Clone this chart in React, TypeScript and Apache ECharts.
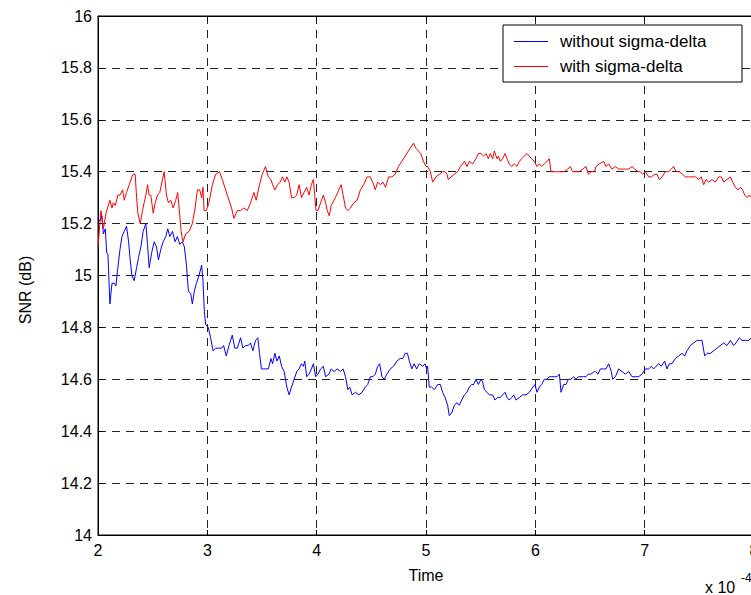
import React, { useEffect, useRef } from "react";
import * as echarts from "echarts";

// Time axis in units of 1e-4
const timeTicks = [2, 3, 4, 5, 6, 7, 8];
const snrTicks = [14, 14.2, 14.4, 14.6, 14.8, 15, 15.2, 15.4, 15.6, 15.8, 16];
const seriesNames = ["without sigma-delta", "with sigma-delta"];

const withoutSigmaDelta: [number, number][] = [
  [2.000,15.22],[2.018,15.21],[2.036,15.23],[2.049,15.16],[2.067,15.18],[2.079,15.09],[2.091,15.08],[2.109,14.89],[2.128,14.97],[2.149,14.97],[2.164,14.96],[2.179,15.02],[2.201,15.10],[2.219,15.15],[2.240,15.17],[2.261,15.19],[2.280,15.13],[2.292,15.07],[2.310,15.00],[2.331,14.98],[2.353,15.03],[2.371,15.07],[2.392,15.11],[2.413,15.17],[2.438,15.20],[2.453,15.12],[2.468,15.03],[2.492,15.09],[2.514,15.13],[2.535,15.11],[2.553,15.06],[2.574,15.10],[2.596,15.13],[2.620,15.15],[2.638,15.18],[2.657,15.15],[2.681,15.17],[2.705,15.13],[2.726,15.15],[2.748,15.12],[2.772,15.13],[2.790,15.11],[2.809,15.04],[2.827,14.94],[2.848,14.93],[2.863,14.89],[2.881,14.94],[2.900,14.97],[2.924,15.00],[2.948,15.04],[2.960,14.98],[2.973,14.86],[2.985,14.81],[3.009,14.80],[3.030,14.76],[3.052,14.71],[3.076,14.72],[3.106,14.72],[3.131,14.72],[3.149,14.73],[3.173,14.69],[3.198,14.73],[3.228,14.77],[3.252,14.72],[3.274,14.72],[3.304,14.76],[3.325,14.72],[3.350,14.73],[3.374,14.73],[3.395,14.74],[3.416,14.71],[3.441,14.75],[3.462,14.76],[3.477,14.70],[3.495,14.64],[3.517,14.64],
  [3.558,14.64],[3.582,14.68],[3.597,14.66],[3.618,14.70],[3.636,14.67],[3.658,14.69],[3.679,14.65],[3.703,14.63],[3.727,14.57],[3.748,14.54],[3.770,14.57],[3.794,14.60],[3.818,14.63],[3.839,14.64],[3.861,14.66],[3.879,14.65],[3.891,14.67],[3.909,14.61],[3.930,14.62],[3.952,14.64],[3.970,14.66],[3.991,14.61],[4.012,14.62],[4.036,14.64],[4.061,14.65],[4.082,14.61],[4.112,14.62],[4.133,14.64],[4.158,14.63],[4.188,14.64],[4.218,14.63],[4.242,14.64],[4.264,14.61],[4.285,14.56],[4.303,14.57],[4.324,14.54],[4.355,14.55],[4.385,14.54],[4.415,14.55],[4.445,14.57],[4.467,14.58],[4.491,14.61],[4.515,14.61],[4.536,14.62],[4.558,14.65],[4.576,14.66],[4.597,14.61],[4.618,14.60],[4.642,14.62],[4.673,14.64],[4.703,14.65],[4.733,14.67],[4.764,14.68],[4.788,14.68],[4.809,14.70],[4.830,14.70],[4.848,14.67],[4.870,14.64],[4.891,14.66],[4.915,14.64],[4.939,14.66],[4.970,14.65],[4.991,14.66],[5.006,14.64],
  [5.015,14.65],[5.030,14.57],[5.052,14.57],[5.076,14.56],[5.107,14.58],[5.131,14.58],[5.152,14.55],[5.174,14.53],[5.198,14.50],[5.213,14.46],[5.235,14.47],[5.259,14.50],[5.284,14.51],[5.305,14.50],[5.326,14.52],[5.351,14.54],[5.375,14.55],[5.396,14.57],[5.418,14.58],[5.436,14.58],[5.457,14.60],[5.479,14.58],[5.503,14.60],[5.518,14.59],[5.534,14.56],[5.558,14.55],[5.579,14.54],[5.610,14.54],[5.631,14.52],[5.655,14.53],[5.680,14.53],[5.701,14.54],[5.723,14.55],[5.741,14.53],[5.762,14.52],[5.784,14.53],[5.802,14.54],[5.823,14.52],[5.854,14.53],[5.884,14.54],[5.915,14.54],[5.945,14.55],[5.976,14.57],[5.997,14.58],[6.015,14.55],[6.037,14.57],[6.058,14.58],[6.082,14.60],[6.107,14.60],[6.128,14.61],[6.149,14.61],[6.174,14.61],[6.198,14.61],[6.220,14.62],[6.235,14.55],[6.259,14.58],[6.280,14.58],[6.302,14.60],[6.326,14.60],[6.351,14.61],[6.372,14.60],[6.393,14.61],[6.418,14.61],[6.442,14.61],[6.463,14.61],[6.485,14.62],[6.509,14.62],[6.540,14.63],
  [6.549,14.63],[6.573,14.62],[6.595,14.64],[6.625,14.64],[6.646,14.64],[6.671,14.66],[6.695,14.63],[6.707,14.60],[6.732,14.61],[6.762,14.64],[6.793,14.63],[6.823,14.62],[6.854,14.63],[6.884,14.61],[6.915,14.61],[6.945,14.61],[6.976,14.62],[7.006,14.64],[7.037,14.64],[7.061,14.65],[7.082,14.64],[7.104,14.65],[7.128,14.66],[7.152,14.65],[7.183,14.67],[7.204,14.64],[7.226,14.66],[7.250,14.66],[7.280,14.68],[7.311,14.69],[7.341,14.70],[7.366,14.69],[7.387,14.71],[7.418,14.73],[7.448,14.74],[7.479,14.75],[7.500,14.75],[7.524,14.75],[7.549,14.69],[7.570,14.70],[7.601,14.70],[7.631,14.71],[7.662,14.72],[7.692,14.73],[7.723,14.74],[7.753,14.73],[7.784,14.75],[7.814,14.73],[7.835,14.74],[7.866,14.76],[7.890,14.75],[7.921,14.75],[7.951,14.75],[7.976,14.76],[8.000,14.76],
];

const withSigmaDelta: [number, number][] = [
  [2.000,15.11],[2.027,15.25],[2.049,15.18],[2.073,15.24],[2.109,15.29],[2.128,15.26],[2.140,15.28],[2.158,15.27],[2.182,15.31],[2.201,15.31],[2.225,15.33],[2.240,15.29],[2.261,15.32],[2.286,15.35],[2.310,15.38],[2.322,15.39],[2.340,15.39],[2.353,15.30],[2.365,15.24],[2.386,15.20],[2.407,15.25],[2.422,15.28],[2.438,15.31],[2.453,15.35],[2.468,15.31],[2.483,15.31],[2.505,15.24],[2.523,15.28],[2.544,15.31],[2.565,15.32],[2.590,15.37],[2.605,15.40],[2.626,15.31],[2.644,15.28],[2.666,15.29],[2.687,15.26],[2.711,15.29],[2.729,15.32],[2.742,15.26],[2.760,15.17],[2.778,15.13],[2.802,15.16],[2.833,15.17],[2.863,15.20],[2.888,15.26],[2.909,15.33],[2.930,15.33],[2.948,15.30],[2.960,15.34],[2.970,15.25],[2.991,15.25],[3.015,15.28],[3.046,15.35],[3.076,15.39],[3.112,15.40],[3.137,15.37],[3.167,15.33],[3.198,15.29],[3.222,15.26],[3.243,15.22],[3.274,15.25],[3.304,15.25],[3.334,15.26],[3.365,15.25],[3.395,15.28],[3.426,15.32],[3.447,15.29],[3.477,15.35],[3.502,15.39],[3.532,15.42],
  [3.558,15.38],[3.582,15.37],[3.597,15.35],[3.618,15.33],[3.642,15.35],[3.667,15.36],[3.688,15.38],[3.709,15.36],[3.727,15.38],[3.748,15.36],[3.770,15.30],[3.794,15.30],[3.818,15.31],[3.839,15.35],[3.861,15.30],[3.885,15.32],[3.909,15.34],[3.930,15.31],[3.952,15.35],[3.970,15.37],[3.982,15.31],[3.994,15.25],[4.012,15.25],[4.036,15.28],[4.061,15.31],[4.082,15.28],[4.097,15.25],[4.115,15.23],[4.133,15.27],[4.158,15.29],[4.182,15.31],[4.203,15.33],[4.224,15.35],[4.242,15.31],[4.264,15.26],[4.285,15.25],[4.309,15.26],[4.339,15.28],[4.370,15.29],[4.400,15.33],[4.430,15.35],[4.461,15.38],[4.491,15.38],[4.521,15.35],[4.536,15.33],[4.558,15.36],[4.582,15.35],[4.606,15.36],[4.630,15.34],[4.658,15.38],[4.688,15.38],[4.718,15.39],[4.748,15.42],[4.779,15.44],[4.809,15.46],[4.839,15.48],[4.870,15.50],[4.885,15.51],[4.909,15.49],[4.930,15.48],[4.952,15.47],[4.976,15.44],[5.000,15.42],
  [5.015,15.42],[5.040,15.40],[5.061,15.36],[5.091,15.38],[5.122,15.39],[5.152,15.40],[5.174,15.40],[5.192,15.39],[5.204,15.37],[5.229,15.38],[5.259,15.39],[5.290,15.40],[5.314,15.42],[5.335,15.43],[5.351,15.44],[5.375,15.42],[5.396,15.44],[5.427,15.43],[5.457,15.45],[5.479,15.47],[5.503,15.47],[5.527,15.46],[5.549,15.47],[5.570,15.45],[5.588,15.47],[5.610,15.45],[5.625,15.48],[5.649,15.45],[5.662,15.46],[5.680,15.44],[5.701,15.45],[5.723,15.47],[5.741,15.45],[5.762,15.43],[5.784,15.42],[5.808,15.43],[5.832,15.42],[5.854,15.44],[5.875,15.45],[5.899,15.46],[5.924,15.47],[5.945,15.46],[5.966,15.45],[5.991,15.44],[6.015,15.42],[6.037,15.43],[6.058,15.42],[6.082,15.43],[6.107,15.44],[6.128,15.45],[6.143,15.40],[6.174,15.40],[6.204,15.40],[6.235,15.40],[6.265,15.40],[6.296,15.41],[6.320,15.42],[6.341,15.40],[6.372,15.40],[6.402,15.40],[6.433,15.41],[6.463,15.42],[6.485,15.39],[6.509,15.40],[6.540,15.40],
  [6.555,15.42],[6.585,15.43],[6.625,15.44],[6.646,15.42],[6.671,15.43],[6.701,15.41],[6.732,15.42],[6.762,15.41],[6.793,15.41],[6.823,15.41],[6.854,15.41],[6.884,15.42],[6.909,15.41],[6.939,15.40],[6.960,15.40],[6.982,15.39],[7.006,15.40],[7.037,15.38],[7.061,15.38],[7.091,15.39],[7.113,15.39],[7.134,15.37],[7.159,15.38],[7.189,15.40],[7.220,15.40],[7.244,15.41],[7.265,15.42],[7.287,15.40],[7.317,15.40],[7.348,15.39],[7.372,15.38],[7.402,15.38],[7.433,15.38],[7.463,15.38],[7.494,15.37],[7.518,15.38],[7.540,15.35],[7.561,15.37],[7.585,15.36],[7.616,15.37],[7.646,15.36],[7.677,15.38],[7.701,15.38],[7.723,15.36],[7.753,15.37],[7.784,15.38],[7.805,15.36],[7.829,15.34],[7.854,15.33],[7.875,15.34],[7.896,15.33],[7.915,15.31],[7.936,15.30],[7.957,15.31],[7.976,15.30],[8.000,15.30],
];

const FONT = "'Liberation Sans', Arial, Helvetica, sans-serif";

export default function App() {
  const ref = useRef<HTMLDivElement>(null);
  useEffect(() => {
    if (!ref.current) return;
    const chart = echarts.init(ref.current, undefined, { renderer: "svg" });
    const xMin = timeTicks[0];
    const xMax = timeTicks[timeTicks.length - 1];
    const yMin = snrTicks[0];
    const yMax = snrTicks[snrTicks.length - 1];
    const splitStyle = { show: true, lineStyle: { color: "#222", width: 1, type: [8, 6] as any } };
    chart.setOption({
      animation: false,
      backgroundColor: "#fff",
      grid: {
        left: 98,
        top: 16,
        width: 656,
        height: 519,
        show: true,
        borderColor: "#000",
        borderWidth: 1,
        backgroundColor: "#fff",
        containLabel: false,
      },
      legend: {
        orient: "vertical",
        left: 503,
        top: 25,
        padding: [8, 12, 7, 11],
        itemWidth: 34,
        itemHeight: 1,
        itemGap: 8,
        icon: "rect",
        backgroundColor: "#fff",
        borderColor: "#000",
        borderWidth: 1,
        borderRadius: 0,
        data: seriesNames,
        textStyle: {
          fontFamily: FONT,
          fontSize: 17,
          color: "#000",
          lineHeight: 16,
          width: 170,
          padding: [0, 0, 0, 7],
        },
      },
      xAxis: [
        {
          type: "value",
          min: xMin,
          max: xMax,
          interval: 1,
          position: "bottom",
          name: "Time",
          nameLocation: "middle",
          nameGap: 32,
          nameTextStyle: { fontFamily: FONT, fontSize: 16, color: "#000" },
          axisLine: { show: true, lineStyle: { color: "#000", width: 1 } },
          axisTick: { show: true, inside: true, length: 5, lineStyle: { color: "#000" } },
          axisLabel: {
            fontFamily: FONT,
            fontSize: 16,
            color: "#000",
            margin: 7,
            formatter: (v: number) => String(Math.round(v)),
          },
          splitLine: splitStyle,
        },
        {
          type: "value",
          min: xMin,
          max: xMax,
          interval: 1,
          position: "top",
          axisLine: { show: true, lineStyle: { color: "#000", width: 1 } },
          axisTick: { show: true, inside: true, length: 5, lineStyle: { color: "#000" } },
          axisLabel: { show: false },
          splitLine: { show: false },
        },
      ],
      yAxis: [
        {
          type: "value",
          min: yMin,
          max: yMax,
          interval: 0.2,
          axisLine: { show: true, lineStyle: { color: "#000", width: 1 } },
          axisTick: { show: true, inside: true, length: 5, lineStyle: { color: "#000" } },
          axisLabel: {
            fontFamily: FONT,
            fontSize: 16,
            color: "#000",
            margin: 6,
            formatter: (v: number) => String(Math.round(v * 10) / 10),
          },
          splitLine: splitStyle,
        },
      ],
      graphic: [
        {
          type: "text",
          x: 25,
          y: 290,
          rotation: Math.PI / 2,
          style: {
            text: "SNR (dB)",
            fontFamily: FONT,
            fontSize: 16,
            fill: "#000",
            textAlign: "center",
            textVerticalAlign: "middle",
          },
        },
        {
          type: "text",
          x: 705,
          y: 587,
          style: {
            text: "x 10",
            fontFamily: FONT,
            fontSize: 16,
            fill: "#000",
            textAlign: "left",
            textVerticalAlign: "middle",
          },
        },
        {
          type: "text",
          x: 741,
          y: 578,
          style: {
            text: "-4",
            fontFamily: FONT,
            fontSize: 12,
            fill: "#000",
            textAlign: "left",
            textVerticalAlign: "middle",
          },
        },
      ],
      series: [
        {
          name: seriesNames[0],
          type: "line",
          data: withoutSigmaDelta,
          showSymbol: false,
          symbol: "none",
          color: "#0000ff",
          lineStyle: { color: "#0000ff", width: 1 },
        },
        {
          name: seriesNames[1],
          type: "line",
          data: withSigmaDelta,
          showSymbol: false,
          symbol: "none",
          color: "#ff0000",
          lineStyle: { color: "#ff0000", width: 1 },
        },
      ],
    });
    return () => chart.dispose();
  }, []);
  return (
    <div
      ref={ref}
      style={{ position: "absolute", left: 0, top: 0, width: 800, height: 595 }}
    />
  );
}
